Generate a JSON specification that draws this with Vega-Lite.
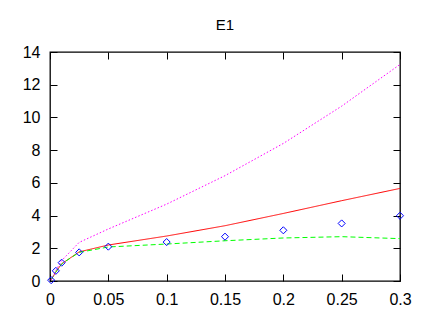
{
  "$schema": "https://vega.github.io/schema/vega-lite/v6.json",
  "width": 350,
  "height": 229,
  "autosize": "none",
  "padding": {"left": 50, "top": 52, "right": 29, "bottom": 36},
  "background": "white",
  "config": {
    "font": "Liberation Sans",
    "view": {"stroke": "#000", "strokeWidth": 1.3},
    "axis": {"grid": false, "domain": false, "tickColor": "#000", "tickSize": 7, "offset": -7, "tickWidth": 1, "labelFont": "Liberation Sans", "labelFontSize": 16, "labelColor": "#000"}
  },
  "title": {"text": "E1", "fontSize": 15, "fontWeight": "normal", "font": "Liberation Sans", "color": "#000", "baseline": "alphabetic", "offset": -1},
  "data": {"values": [
    {"x": 0.001, "y": 0.08, "s": "s1"}, {"x": 0.005, "y": 0.55, "s": "s1"}, {"x": 0.01, "y": 1.05, "s": "s1"}, {"x": 0.025, "y": 1.78, "s": "s1"}, {"x": 0.05, "y": 2.2, "s": "s1"}, {"x": 0.1, "y": 2.75, "s": "s1"}, {"x": 0.15, "y": 3.38, "s": "s1"}, {"x": 0.2, "y": 4.13, "s": "s1"}, {"x": 0.25, "y": 4.91, "s": "s1"}, {"x": 0.3, "y": 5.66, "s": "s1"},
    {"x": 0.001, "y": 0.08, "s": "s2"}, {"x": 0.005, "y": 0.55, "s": "s2"}, {"x": 0.01, "y": 1.05, "s": "s2"}, {"x": 0.025, "y": 1.75, "s": "s2"}, {"x": 0.05, "y": 2.08, "s": "s2"}, {"x": 0.1, "y": 2.26, "s": "s2"}, {"x": 0.15, "y": 2.46, "s": "s2"}, {"x": 0.2, "y": 2.63, "s": "s2"}, {"x": 0.25, "y": 2.71, "s": "s2"}, {"x": 0.3, "y": 2.59, "s": "s2"},
    {"x": 0.001, "y": 0.06, "s": "s3"}, {"x": 0.005, "y": 0.65, "s": "s3"}, {"x": 0.01, "y": 1.25, "s": "s3"}, {"x": 0.025, "y": 2.36, "s": "s3"}, {"x": 0.05, "y": 3.18, "s": "s3"}, {"x": 0.1, "y": 4.7, "s": "s3"}, {"x": 0.15, "y": 6.44, "s": "s3"}, {"x": 0.2, "y": 8.41, "s": "s3"}, {"x": 0.25, "y": 10.69, "s": "s3"}, {"x": 0.3, "y": 13.24, "s": "s3"},
    {"x": 0.001, "y": 0.05, "s": "exp"}, {"x": 0.005, "y": 0.62, "s": "exp"}, {"x": 0.01, "y": 1.12, "s": "exp"}, {"x": 0.025, "y": 1.75, "s": "exp"}, {"x": 0.05, "y": 2.1, "s": "exp"}, {"x": 0.1, "y": 2.38, "s": "exp"}, {"x": 0.15, "y": 2.71, "s": "exp"}, {"x": 0.2, "y": 3.1, "s": "exp"}, {"x": 0.25, "y": 3.52, "s": "exp"}, {"x": 0.3, "y": 3.99, "s": "exp"}
  ]},
  "layer": [
    {
      "transform": [{"filter": "datum.s != 'exp'"}],
      "mark": {"type": "line", "strokeWidth": 1, "clip": true},
      "encoding": {
        "x": {"field": "x", "type": "quantitative", "scale": {"domain": [0, 0.3], "nice": false, "zero": false}, "axis": {"orient": "bottom", "values": [0, 0.05, 0.1, 0.15, 0.2, 0.25, 0.3], "format": ".2~f", "title": null, "labelPadding": 10, "labelFlush": false}},
        "y": {"field": "y", "type": "quantitative", "scale": {"domain": [0, 14], "nice": false}, "axis": {"orient": "left", "values": [0, 2, 4, 6, 8, 10, 12, 14], "title": null, "labelPadding": 10}},
        "color": {"field": "s", "type": "nominal", "scale": {"domain": ["s1", "s2", "s3", "exp"], "range": ["#ff0000", "#00ff00", "#ff00ff", "#0000ff"]}, "legend": null},
        "strokeDash": {"field": "s", "type": "nominal", "scale": {"domain": ["s1", "s2", "s3"], "range": [[1, 0], [5, 3], [1.5, 2]]}, "legend": null},
        "order": {"field": "x", "type": "quantitative"}
      }
    },
    {
      "transform": [{"filter": "datum.s == 'exp'"}],
      "mark": {"type": "point", "shape": "diamond", "filled": false, "size": 50, "strokeWidth": 1, "opacity": 1},
      "encoding": {
        "x": {"field": "x", "type": "quantitative", "axis": null},
        "y": {"field": "y", "type": "quantitative", "axis": null},
        "color": {"field": "s", "type": "nominal", "legend": null}
      }
    },
    {
      "transform": [{"filter": "datum.s == 'exp'"}],
      "mark": {"type": "point", "opacity": 0},
      "encoding": {
        "x": {"field": "x", "type": "quantitative", "axis": {"orient": "top", "values": [0, 0.05, 0.1, 0.15, 0.2, 0.25, 0.3], "labels": false, "title": null, "minExtent": 0, "maxExtent": 0}},
        "y": {"field": "y", "type": "quantitative", "axis": {"orient": "right", "values": [0, 2, 4, 6, 8, 10, 12, 14], "labels": false, "title": null, "minExtent": 0, "maxExtent": 0}}
      }
    }
  ],
  "resolve": {"axis": {"x": "independent", "y": "independent"}}
}
